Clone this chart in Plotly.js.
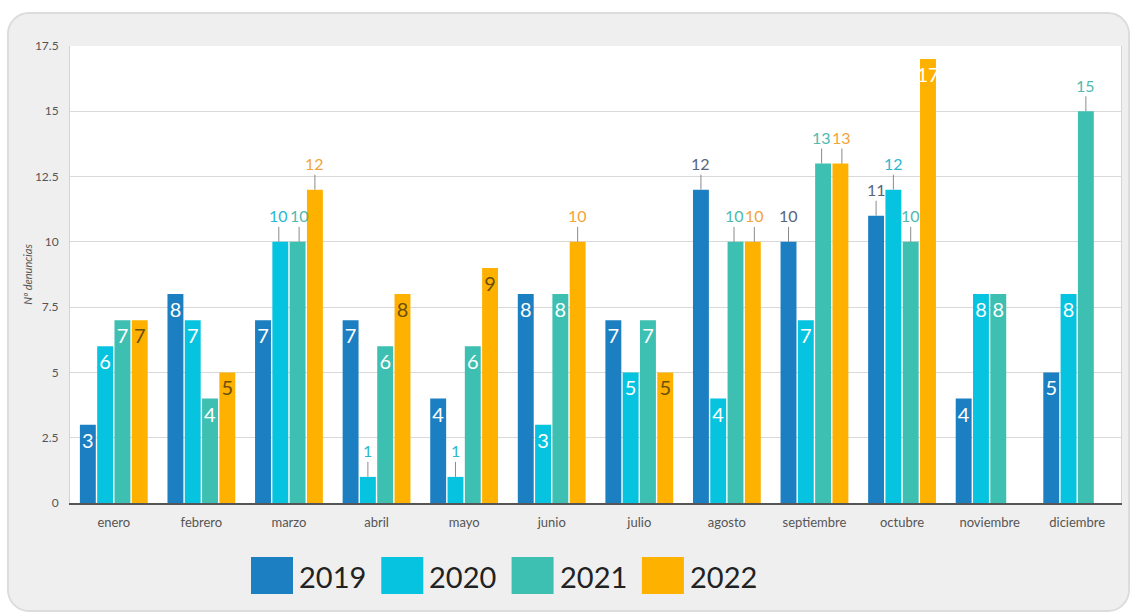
<!DOCTYPE html>
<html>
<head>
<meta charset="utf-8">
<script src="https://cdn.plot.ly/plotly-3.0.1.min.js"></script>
<style>
  html, body { margin:0; padding:0; background:#ffffff; }
  #card { position:absolute; left:7px; top:12px; width:1119px; height:596px;
          background:#efefef; border:2px solid #dcdcdc; border-radius:22px; }
  #chart { position:absolute; left:0; top:0; width:1130px; height:614px; }
</style>
</head>
<body>
<div id="card"></div>
<div id="chart"></div>
<script>
// ---- data ----
const months = ['enero','febrero','marzo','abril','mayo','junio','julio','agosto','septiembre','octubre','noviembre','diciembre'];
const years = ['2019','2020','2021','2022'];
const v2019 = [3, 8, 7, 7, 4, 8, 7, 12, 10, 11, 4, 5];
const v2020 = [6, 7, 10, 1, 1, 3, 5, 4, 7, 12, 8, 8];
const v2021 = [7, 4, 10, 6, 6, 8, 7, 10, 13, 10, 8, 15];
const v2022 = [7, 5, 12, 8, 9, 10, 5, 10, 13, 17, null, null];
const yTickVals = [0, 2.5, 5, 7.5, 10, 12.5, 15, 17.5];
const yTickText = ['0', '2.5', '5', '7.5', '10', '12.5', '15', '17.5'];
const yTitle = 'Nº denuncias';

// which labels sit above their bar (with a leader line)
const outside2019 = ['agosto','septiembre','octubre'];
const outside2020 = ['marzo','abril','mayo','octubre'];
const outside2021 = ['marzo','agosto','septiembre','octubre','diciembre'];
const outside2022 = ['marzo','junio','agosto','septiembre'];

// ---- styling ----
const values = [v2019, v2020, v2021, v2022];
const outsides = [outside2019, outside2020, outside2021, outside2022];
const colors = ['#1c7fc1', '#06c4df', '#3dbfb1', '#ffb100'];
const insideColors = ['#ffffff', '#ffffff', '#ffffff', '#6b5010'];
const outsideColors = ['#56657f', '#2bb7d1', '#4fbab0', '#f3a43a'];
const labelFont = 'Lato, "Open Sans", sans-serif';
const tickFont = 'Lato, "Open Sans", sans-serif';

const BARGAP = 0.21;
const nSeries = years.length;
const slot = (1 - BARGAP) / nSeries;

const isOut = (k, i) => k >= 0 && k < nSeries && values[k][i] != null && outsides[k].includes(months[i]);

const traces = years.map((yr, k) => {
  const vals = values[k];
  const text = vals.map((v, i) => (v == null || isOut(k, i)) ? '' : String(v));
  const top = Math.max(...vals.filter(v => v != null));
  const tcol = vals.map(v => (k === 3 && v === top) ? '#ffffff' : insideColors[k]);
  return {
    type: 'bar',
    name: yr,
    x: months,
    y: vals,
    text: text,
    textposition: 'inside',
    insidetextanchor: 'end',
    textangle: 0,
    constraintext: 'none',
    insidetextfont: {family: labelFont, size: 20, color: tcol},
    marker: {color: colors[k]},
    hoverinfo: 'x+y+name',
    cliponaxis: false
  };
});

const annotations = [];
years.forEach((yr, k) => {
  const vals = values[k];
  const off = -(1 - BARGAP) / 2 + slot * (k + 0.5);
  vals.forEach((v, i) => {
    if (isOut(k, i)) {
      let shift = 0;
      if (isOut(k + 1, i) && values[k + 1][i] === v) shift -= 1.5;
      if (isOut(k - 1, i) && values[k - 1][i] === v) shift += 1.5;
      annotations.push({
        x: i + off, y: v, xref: 'x', yref: 'y',
        text: String(v),
        showarrow: true, arrowhead: 0, arrowwidth: 1, arrowcolor: '#8a8a8a',
        ax: 0, ay: -26, standoff: 0, xshift: shift,
        font: {family: labelFont, size: 16, color: outsideColors[k]}
      });
    }
  });
});

// custom legend (large swatches), built from series names & colours
const M = {l: 70, r: 9, t: 46, b: 111};
const W = 1130, H = 614;
const pw = W - M.l - M.r, ph = H - M.t - M.b;
const px2x = p => (p - M.l) / pw;
const py2y = p => (H - M.b - p) / ph;
const shapes = [];
years.forEach((yr, k) => {
  const x0 = 251 + k * 130.3;
  shapes.push({
    type: 'rect', xref: 'paper', yref: 'paper',
    x0: px2x(x0), x1: px2x(x0 + 42), y0: py2y(594), y1: py2y(557),
    fillcolor: colors[k], line: {width: 0}
  });
  annotations.push({
    xref: 'paper', yref: 'paper', x: px2x(x0 + 46), y: py2y(576),
    xanchor: 'left', yanchor: 'middle', showarrow: false,
    text: yr, font: {family: labelFont, size: 29, color: '#222222'}
  });
});

const layout = {
  width: W, height: H,
  margin: M,
  paper_bgcolor: 'rgba(0,0,0,0)',
  plot_bgcolor: '#ffffff',
  barmode: 'group',
  bargap: BARGAP,
  bargroupgap: 0.08,
  showlegend: false,
  font: {family: tickFont, color: '#555555'},
  xaxis: {
    type: 'category',
    showgrid: false,
    showline: true, linecolor: '#555555', linewidth: 2,
    ticks: '', ticklabelstandoff: 6,
    tickfont: {family: tickFont, size: 13, color: '#555555'},
    zeroline: false
  },
  yaxis: {
    range: [0, 17.5],
    tickvals: yTickVals, ticktext: yTickText,
    showgrid: true, gridcolor: '#d9d9d9', gridwidth: 1,
    showline: true, linecolor: '#d4d4d4', linewidth: 1, mirror: true,
    zeroline: false,
    ticks: '', ticklabelstandoff: 8,
    tickfont: {family: tickFont, size: 12, color: '#555555'},
    title: {text: '<i>' + yTitle + '</i>', standoff: 0, font: {family: tickFont, size: 11, color: '#555555'}}
  },
  annotations: annotations,
  shapes: shapes
};

Plotly.newPlot('chart', traces, layout, {displayModeBar: false, responsive: false});
</script>
</body>
</html>
